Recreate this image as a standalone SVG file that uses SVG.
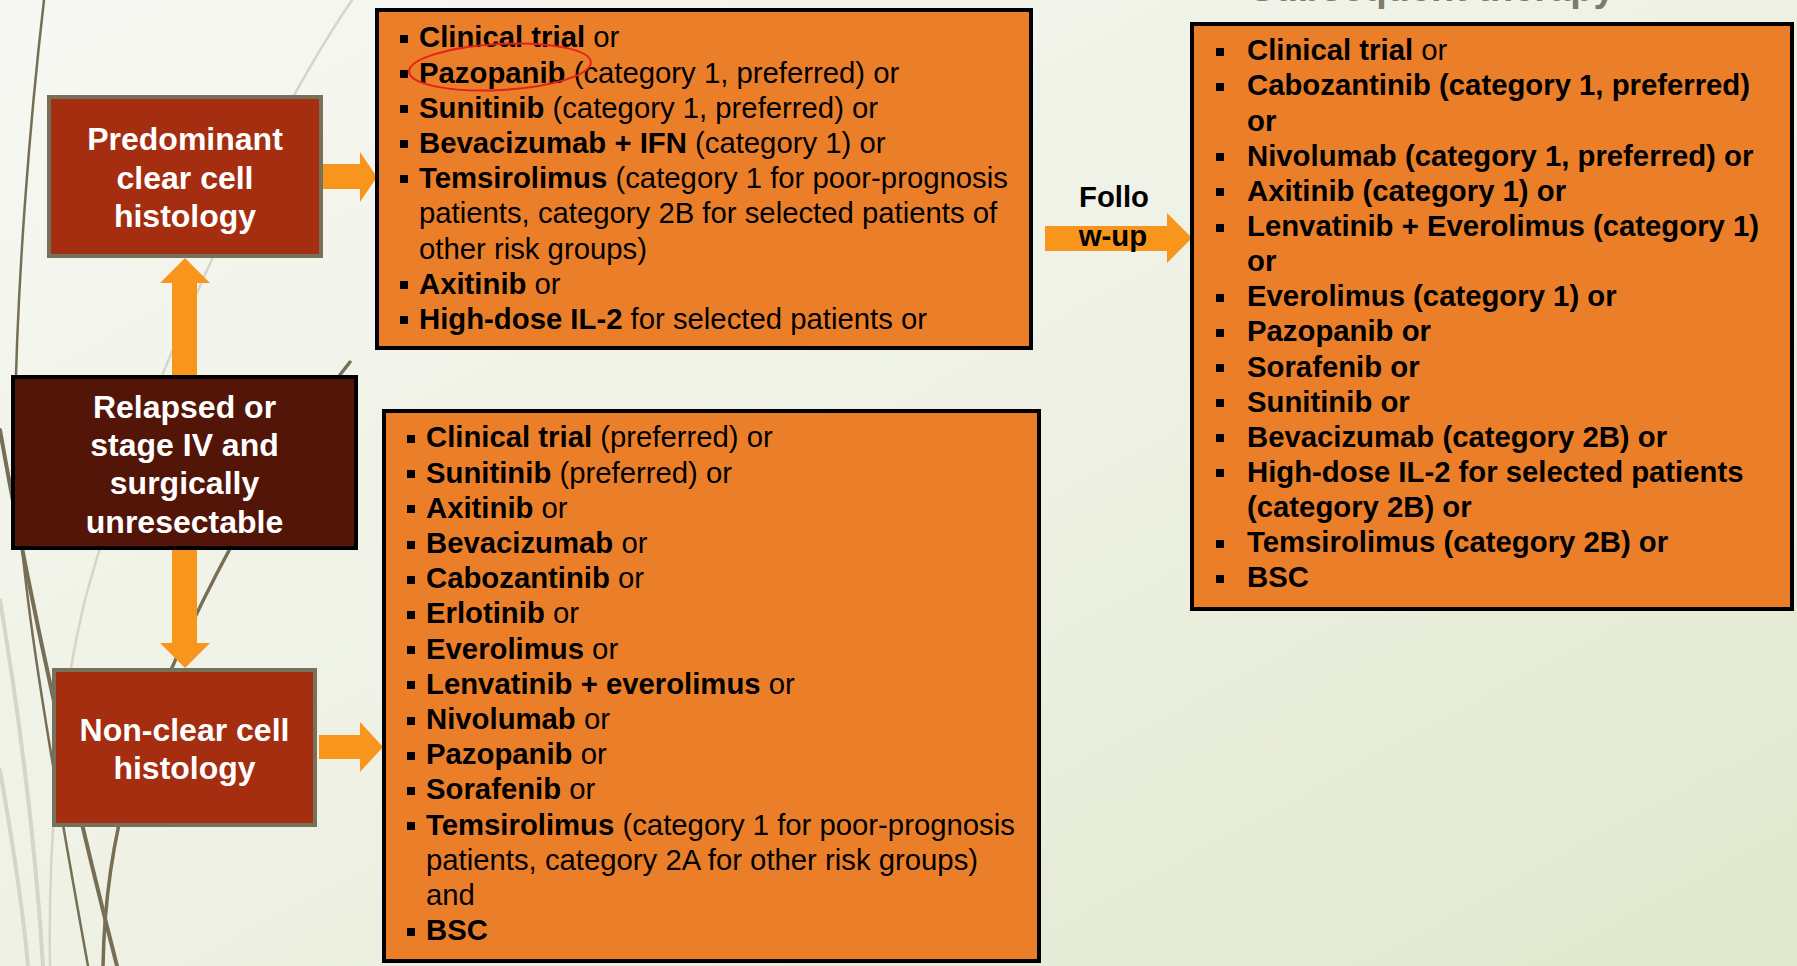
<svg xmlns="http://www.w3.org/2000/svg" width="1797" height="966" viewBox="0 0 1797 966">
<defs>
<linearGradient id="bg" x1="0" y1="0" x2="1" y2="1">
<stop offset="0" stop-color="#F7F8F3"/>
<stop offset="0.5" stop-color="#EEF1E4"/>
<stop offset="1" stop-color="#E1E8CE"/>
</linearGradient>
</defs>
<style>
.t{font-family:"Liberation Sans",Arial,sans-serif;font-size:29.3px;fill:#000}
.b{font-weight:bold}
.w{font-family:"Liberation Sans",Arial,sans-serif;font-size:32px;font-weight:bold;fill:#fff;text-anchor:middle}
.hist{fill:#A52D10;stroke:#77705A;stroke-width:4}
.root{fill:#521507;stroke:#000;stroke-width:4}
.list{fill:#EB7F29;stroke:#000;stroke-width:4}
.arr{fill:#F8951D}
.sd{fill:none;stroke:#776F55;stroke-linecap:round}
.sl{fill:none;stroke:#D4D6C6;stroke-linecap:round}
.bul{fill:#000}
</style>
<rect x="0" y="0" width="1797" height="966" fill="url(#bg)"/>
<g id="background-stems">
<path class="sl" stroke-width="2.5" d="M 352 0 C 250 150, 130 430, 85 600 C 58 710, 48 850, 50 966"/>
<path class="sl" stroke-width="4" d="M 0 600 C 20 720, 36 850, 43 966"/>
<path class="sl" stroke-width="4" d="M 0 770 C 14 850, 24 920, 28 966"/>
<path class="sd" stroke-width="2.5" d="M 44 0 C 30 120, 17 280, 15 420 C 14 540, 40 700, 88 966"/>
<path class="sd" stroke-width="4" d="M 0 430 C 30 600, 72 790, 117 966"/>
<path class="sd" stroke-width="3.5" d="M 350 362 C 280 450, 180 620, 130 780 C 110 850, 104 910, 103 966"/>
</g>
<text class="b" x="1432" y="1" text-anchor="middle" font-family="Liberation Sans, Arial, sans-serif" font-size="38" fill="#7E7B6B">Subsequent therapy</text>
<g id="connectors">
<polygon class="arr" points="172,375 172,283 160,283 185,258 210,283 197,283 197,375"/>
<polygon class="arr" points="172,550 197,550 197,643 210,643 185,668 160,643 172,643"/>
<polygon class="arr" points="323,164 360,164 360,152 377,177 360,202 360,189 323,189"/>
<polygon class="arr" points="319,735 360,735 360,722 383,747 360,772 360,759 319,759"/>
<polygon class="arr" points="1045,226 1167,226 1167,213 1192,238 1167,263 1167,251 1045,251"/>
<text class="t b" x="1114" y="207" text-anchor="middle" font-size="26">Follo</text>
<text class="t b" x="1113" y="246" text-anchor="middle" font-size="26">w-up</text>
</g>
<g id="node-predominant">
<rect class="hist" x="49" y="97" width="272" height="159"/>
<text class="w" x="185" y="150">Predominant</text>
<text class="w" x="185" y="188.5">clear cell</text>
<text class="w" x="185" y="227">histology</text>
</g>
<g id="node-relapsed">
<rect class="root" x="13" y="377" width="343" height="171"/>
<text class="w" x="184.5" y="418">Relapsed or</text>
<text class="w" x="184.5" y="456">stage IV and</text>
<text class="w" x="184.5" y="494">surgically</text>
<text class="w" x="184.5" y="533">unresectable</text>
</g>
<g id="node-nonclear">
<rect class="hist" x="54" y="670" width="261" height="155"/>
<text class="w" x="184.5" y="741">Non-clear cell</text>
<text class="w" x="184.5" y="779">histology</text>
</g>
<g id="node-clear-options">
<rect class="list" x="377" y="10" width="654" height="338"/>
<g class="bul">
<rect x="400" y="35" width="8" height="8"/>
<rect x="400" y="70" width="8" height="8"/>
<rect x="400" y="105" width="8" height="8"/>
<rect x="400" y="140" width="8" height="8"/>
<rect x="400" y="175" width="8" height="8"/>
<rect x="400" y="281" width="8" height="8"/>
<rect x="400" y="316" width="8" height="8"/>
</g>
<text class="t" x="419" y="47.3"><tspan class="b">Clinical trial</tspan> or</text>
<text class="t" x="419" y="82.5"><tspan class="b">Pazopanib</tspan> (category 1, preferred) or</text>
<text class="t" x="419" y="117.7"><tspan class="b">Sunitinib</tspan> (category 1, preferred) or</text>
<text class="t" x="419" y="152.9"><tspan class="b">Bevacizumab + IFN</tspan> (category 1) or</text>
<text class="t" x="419" y="188.1"><tspan class="b">Temsirolimus</tspan> (category 1 for poor-prognosis</text>
<text class="t" x="419" y="223.3">patients, category 2B for selected patients of</text>
<text class="t" x="419" y="258.5">other risk groups)</text>
<text class="t" x="419" y="293.7"><tspan class="b">Axitinib</tspan> or</text>
<text class="t" x="419" y="328.9"><tspan class="b">High-dose IL-2</tspan> for selected patients or</text>
<ellipse cx="500" cy="67" rx="91" ry="23" transform="rotate(-3 500 67)" fill="none" stroke="#E3211C" stroke-width="2"/>
</g>
<g id="node-nonclear-options">
<rect class="list" x="384" y="411" width="655" height="550"/>
<g class="bul">
<rect x="407" y="435" width="8" height="8"/>
<rect x="407" y="470" width="8" height="8"/>
<rect x="407" y="505" width="8" height="8"/>
<rect x="407" y="541" width="8" height="8"/>
<rect x="407" y="576" width="8" height="8"/>
<rect x="407" y="611" width="8" height="8"/>
<rect x="407" y="646" width="8" height="8"/>
<rect x="407" y="681" width="8" height="8"/>
<rect x="407" y="717" width="8" height="8"/>
<rect x="407" y="752" width="8" height="8"/>
<rect x="407" y="787" width="8" height="8"/>
<rect x="407" y="822" width="8" height="8"/>
<rect x="407" y="928" width="8" height="8"/>
</g>
<text class="t" x="426" y="447.3"><tspan class="b">Clinical trial</tspan> (preferred) or</text>
<text class="t" x="426" y="482.5"><tspan class="b">Sunitinib</tspan> (preferred) or</text>
<text class="t" x="426" y="517.7"><tspan class="b">Axitinib</tspan> or</text>
<text class="t" x="426" y="552.9"><tspan class="b">Bevacizumab</tspan> or</text>
<text class="t" x="426" y="588.1"><tspan class="b">Cabozantinib</tspan> or</text>
<text class="t" x="426" y="623.3"><tspan class="b">Erlotinib</tspan> or</text>
<text class="t" x="426" y="658.5"><tspan class="b">Everolimus</tspan> or</text>
<text class="t" x="426" y="693.7"><tspan class="b">Lenvatinib + everolimus</tspan> or</text>
<text class="t" x="426" y="728.9"><tspan class="b">Nivolumab</tspan> or</text>
<text class="t" x="426" y="764.1"><tspan class="b">Pazopanib</tspan> or</text>
<text class="t" x="426" y="799.3"><tspan class="b">Sorafenib</tspan> or</text>
<text class="t" x="426" y="834.5"><tspan class="b">Temsirolimus</tspan> (category 1 for poor-prognosis</text>
<text class="t" x="426" y="869.7">patients, category 2A for other risk groups)</text>
<text class="t" x="426" y="904.9">and</text>
<text class="t b" x="426" y="940.1">BSC</text>
</g>
<g id="node-subsequent-therapy">
<rect class="list" x="1192" y="24" width="600" height="585"/>
<g class="bul">
<rect x="1216" y="48" width="8" height="8"/>
<rect x="1216" y="83" width="8" height="8"/>
<rect x="1216" y="153" width="8" height="8"/>
<rect x="1216" y="188" width="8" height="8"/>
<rect x="1216" y="224" width="8" height="8"/>
<rect x="1216" y="294" width="8" height="8"/>
<rect x="1216" y="329" width="8" height="8"/>
<rect x="1216" y="364" width="8" height="8"/>
<rect x="1216" y="399" width="8" height="8"/>
<rect x="1216" y="434" width="8" height="8"/>
<rect x="1216" y="469" width="8" height="8"/>
<rect x="1216" y="540" width="8" height="8"/>
<rect x="1216" y="575" width="8" height="8"/>
</g>
<text class="t" x="1247" y="60.3"><tspan class="b">Clinical trial</tspan> or</text>
<text class="t b" x="1247" y="95.4">Cabozantinib (category 1, preferred)</text>
<text class="t b" x="1247" y="130.6">or</text>
<text class="t b" x="1247" y="165.7">Nivolumab (category 1, preferred) or</text>
<text class="t b" x="1247" y="200.9">Axitinib (category 1) or</text>
<text class="t b" x="1247" y="236">Lenvatinib + Everolimus (category 1)</text>
<text class="t b" x="1247" y="271.1">or</text>
<text class="t b" x="1247" y="306.3">Everolimus (category 1) or</text>
<text class="t b" x="1247" y="341.4">Pazopanib or</text>
<text class="t b" x="1247" y="376.6">Sorafenib or</text>
<text class="t b" x="1247" y="411.7">Sunitinib or</text>
<text class="t b" x="1247" y="446.8">Bevacizumab (category 2B) or</text>
<text class="t b" x="1247" y="482">High-dose IL-2 for selected patients</text>
<text class="t b" x="1247" y="517.1">(category 2B) or</text>
<text class="t b" x="1247" y="552.3">Temsirolimus (category 2B) or</text>
<text class="t b" x="1247" y="587.4">BSC</text>
</g>
</svg>
